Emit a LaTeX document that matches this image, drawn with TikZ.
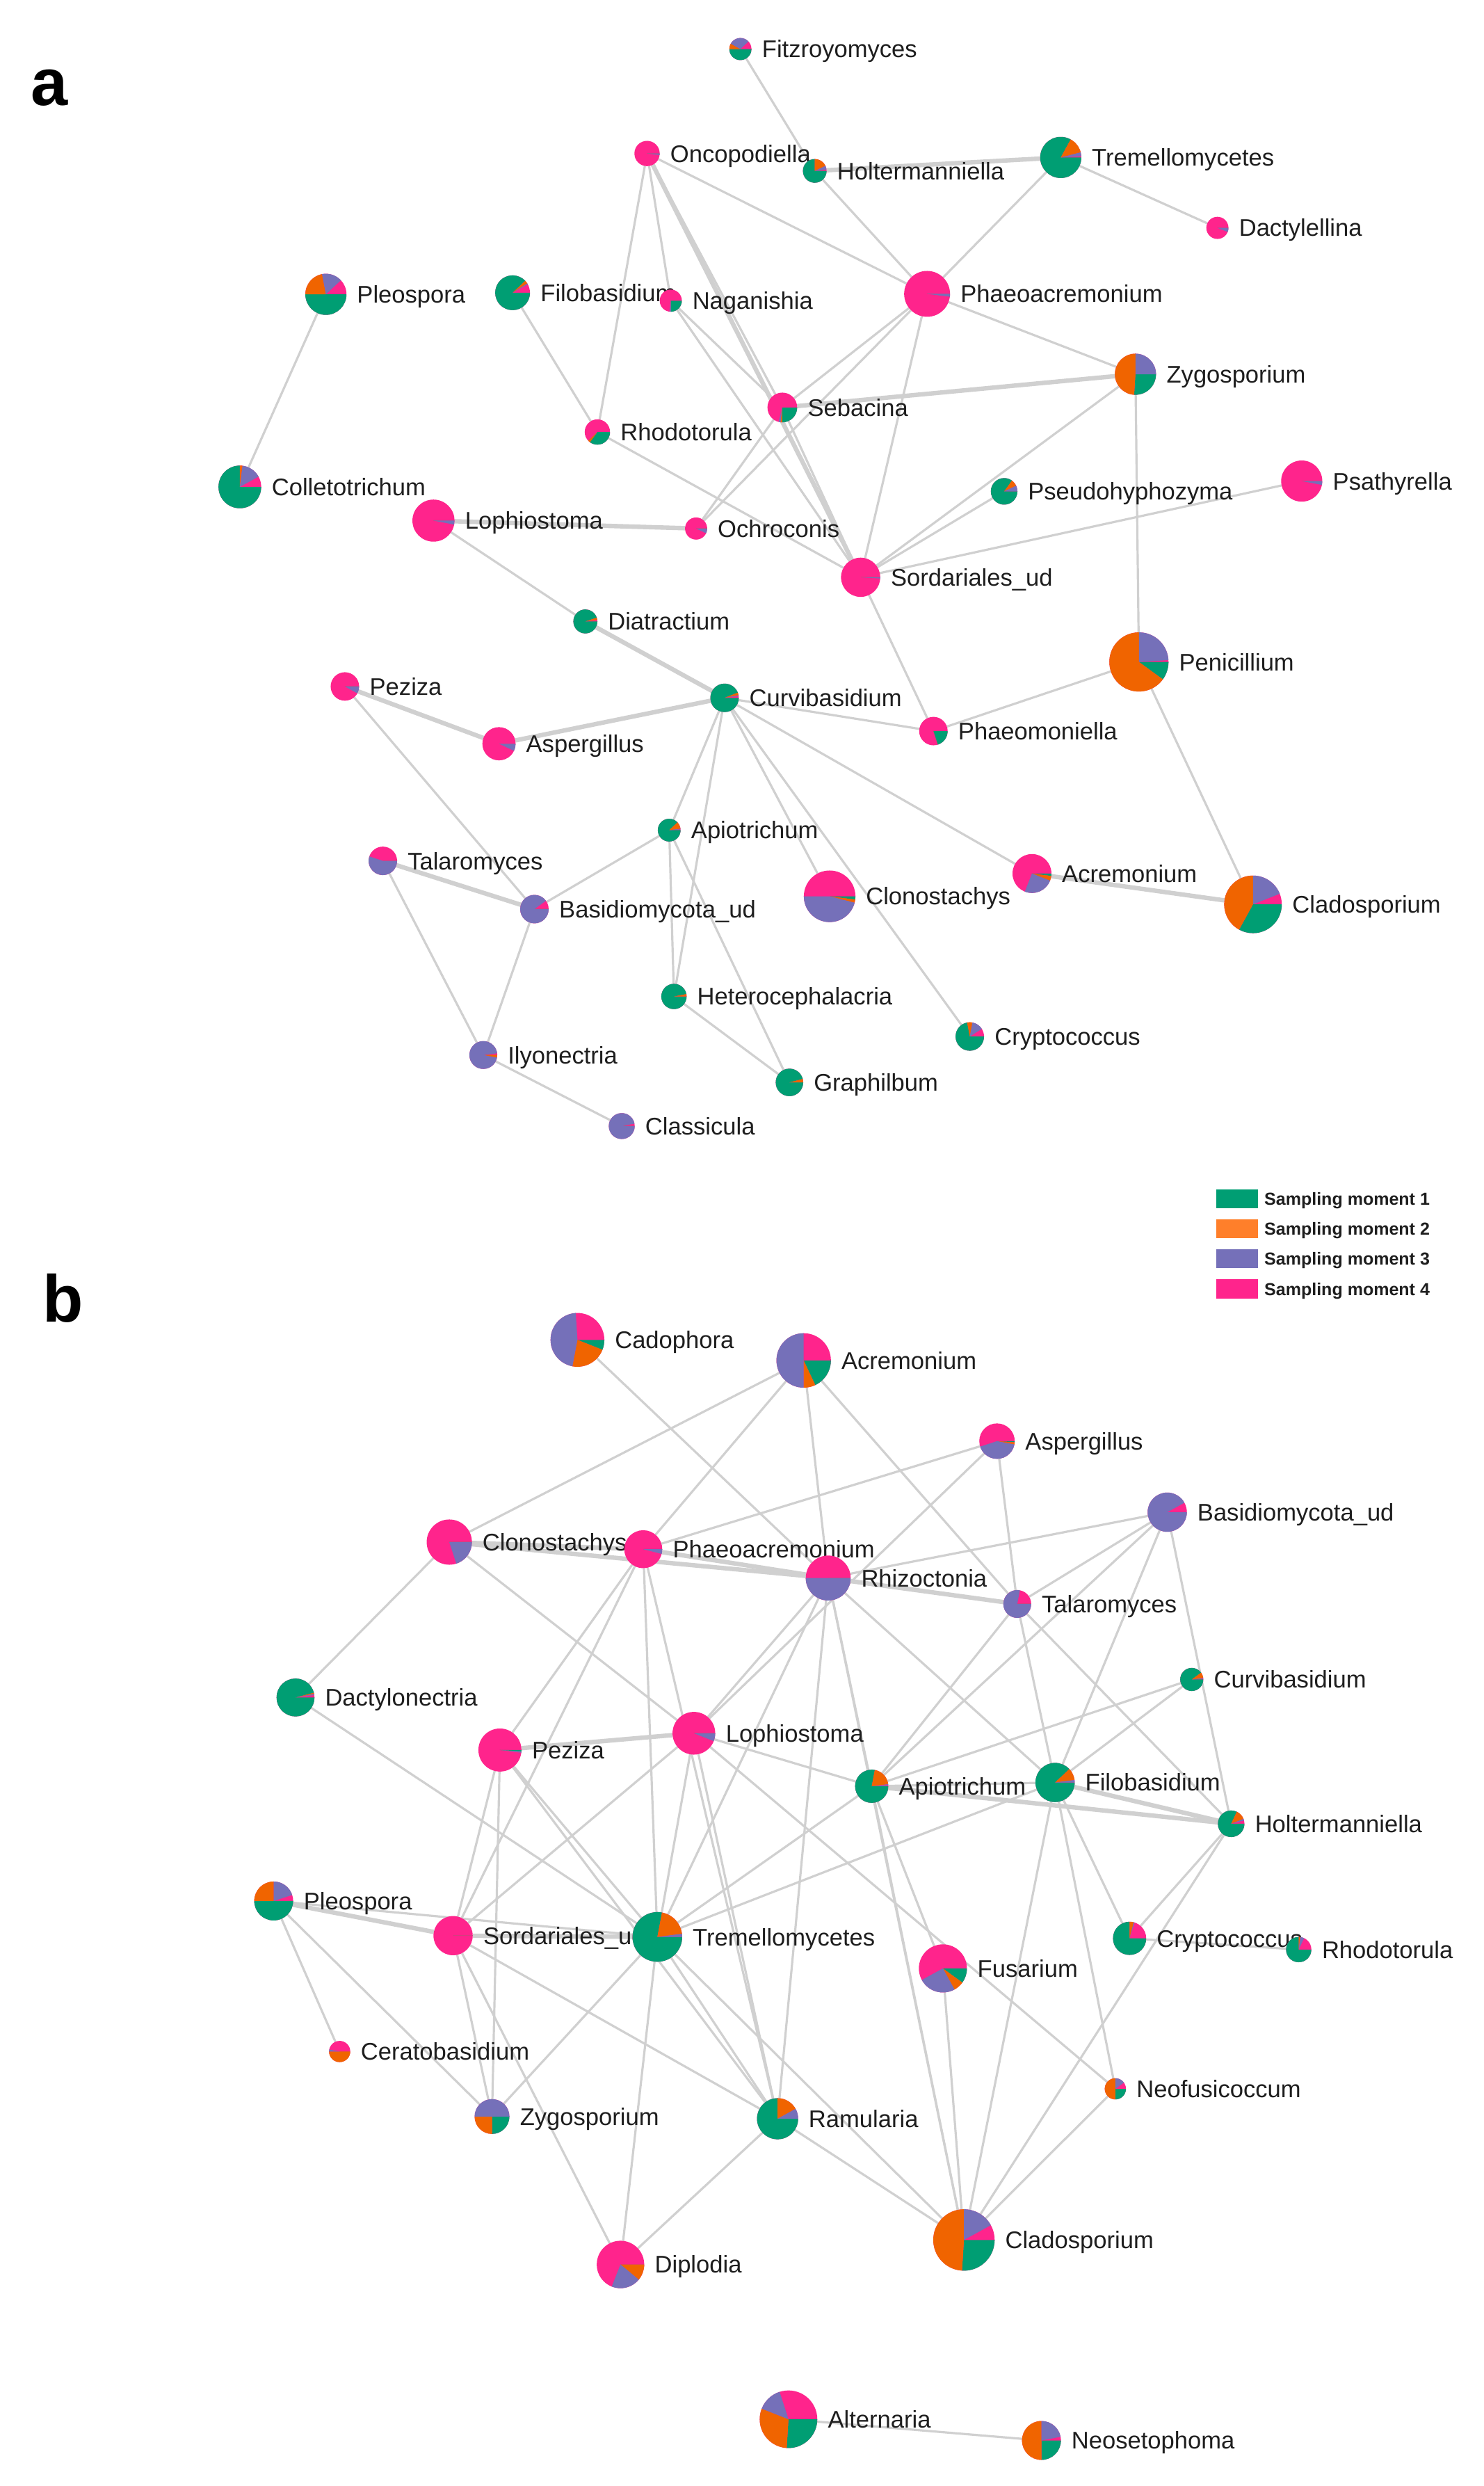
\documentclass[tikz,border=0pt]{standalone}
\usepackage{fontspec}
\setmainfont{Liberation Sans}
\definecolor{cg}{RGB}{0,158,115}
\definecolor{co}{RGB}{240,100,0}
\definecolor{cp}{RGB}{117,112,185}
\definecolor{ck}{RGB}{255,36,140}
\definecolor{lo}{RGB}{255,127,42}
\definecolor{eg}{RGB}{208,208,208}
\definecolor{tx}{RGB}{30,30,30}
\pgfdeclarelayer{bg}
\pgfdeclarelayer{edges}
\pgfsetlayers{bg,edges,main}
\tikzset{
  pie/.style={circle,inner sep=0pt,outer sep=0pt},
  lbl/.style={anchor=west,inner sep=0pt,text=tx,font=\fontsize{15.2}{18}\selectfont,text height=10.9pt,text depth=0pt},
  ed/.style={draw=eg,line width=1.4pt},
  edt/.style={draw=eg,line width=2.8pt},
  panel/.style={anchor=base west,inner sep=0pt,font=\fontsize{42}{42}\selectfont\bfseries},
  legbox/.style={minimum width=26pt,minimum height=12pt,inner sep=0pt},
  legtxt/.style={anchor=west,inner sep=0pt,text=tx,font=\fontsize{11}{13}\selectfont\bfseries,text height=8pt,text depth=0pt}
}
\newcommand\pnode[8]{%
  \node[pie,minimum size={2*#3pt}] (#1) at (#2) {};
  \pgfmathsetmacro\pieA{-360*#4}%
  \pgfmathsetmacro\pieB{\pieA-360*#5}%
  \pgfmathsetmacro\pieC{\pieB-360*#6}%
  \fill[ck] (#1.center) circle[radius=#3pt];
  \fill[cg] (#1.center) -- ++(0:#3pt) arc[start angle=0,end angle=\pieA,radius=#3pt] -- cycle;
  \fill[co] (#1.center) -- ++(\pieA:#3pt) arc[start angle=\pieA,end angle=\pieB,radius=#3pt] -- cycle;
  \fill[cp] (#1.center) -- ++(\pieB:#3pt) arc[start angle=\pieB,end angle=\pieC,radius=#3pt] -- cycle;
  \node[lbl] (#1-l) at ([xshift=6.5pt]#1.east) {#8};
}
\begin{document}
\begin{tikzpicture}[x=1pt,y=-1pt]
\useasboundingbox (0,0) rectangle (938,1571);
\begin{pgfonlayer}{bg}
\fill[white] (0,0) rectangle (938,1571);
\end{pgfonlayer}

\node[panel] (lab-a) at (19.5,66.5) {a};
\node[panel] (lab-b) at (27,835.3) {b};

% ---------------- panel a ----------------
\pnode{a-fit}{468,31}{7}{.5}{.08}{.3}{.12}{Fitzroyomyces}
\pnode{a-onc}{409,97}{8}{0}{0}{.02}{.98}{Oncopodiella}
\pnode{a-hol}{515,108}{7.5}{.75}{.18}{.05}{.02}{Holtermanniella}
\pnode{a-tre}{670.5,99.5}{13}{.83}{.13}{.03}{.01}{Tremellomycetes}
\pnode{a-dac}{769.5,144}{7}{0}{0}{.06}{.94}{Dactylellina}
\pnode{a-ple}{206,186}{13}{.5}{.22}{.16}{.12}{Pleospora}
\pnode{a-fil}{324,185}{11}{.88}{.03}{.01}{.08}{Filobasidium}
\pnode{a-nag}{424,190}{7}{.25}{0}{.02}{.73}{Naganishia}
\pnode{a-pha}{586,185.7}{14.5}{0}{0}{.02}{.98}{Phaeoacremonium}
\pnode{a-zyg}{717.7,236.5}{13}{.26}{.49}{.25}{0}{Zygosporium}
\pnode{a-seb}{494.5,257.5}{9.4}{.25}{.02}{.02}{.71}{Sebacina}
\pnode{a-rho}{377.6,273}{8}{.35}{.03}{0}{.62}{Rhodotorula}
\pnode{a-col}{151.6,307.7}{13.5}{.75}{.02}{.15}{.08}{Colletotrichum}
\pnode{a-lop}{274,329}{13.3}{0}{0}{.03}{.97}{Lophiostoma}
\pnode{a-och}{440,334}{7}{0}{0}{.07}{.93}{Ochroconis}
\pnode{a-pse}{634.7,310.5}{8.4}{.85}{.08}{.07}{0}{Pseudohyphozyma}
\pnode{a-psa}{822.8,304}{13}{0}{0}{.03}{.97}{Psathyrella}
\pnode{a-sor}{544,364.8}{12.4}{0}{0}{.01}{.99}{Sordariales\_ud}
\pnode{a-dia}{370,392.7}{7.6}{.95}{.03}{0}{.02}{Diatractium}
\pnode{a-pen}{719.9,418.3}{18.7}{.1}{.65}{.24}{.01}{Penicillium}
\pnode{a-pez}{218,433.8}{9}{0}{0}{.08}{.92}{Peziza}
\pnode{a-cur}{458,441}{9}{.94}{.03}{.01}{.02}{Curvibasidium}
\pnode{a-asp}{315.4,470}{10.5}{0}{0}{.07}{.93}{Aspergillus}
\pnode{a-phm}{590,462}{9}{.2}{0}{0}{.8}{Phaeomoniella}
\pnode{a-api}{423,524.6}{7.2}{.88}{.1}{.01}{.01}{Apiotrichum}
\pnode{a-tal}{242,544}{9}{0}{0}{.55}{.45}{Talaromyces}
\pnode{a-bas}{337.8,574.5}{9}{0}{0}{.9}{.1}{Basidiomycota\_ud}
\pnode{a-clo}{524.4,566.4}{16.3}{.02}{.02}{.46}{.5}{Clonostachys}
\pnode{a-acr}{652.3,552}{12.3}{.02}{.04}{.25}{.69}{Acremonium}
\pnode{a-cla}{792,571.5}{18.2}{.33}{.42}{.19}{.06}{Cladosporium}
\pnode{a-het}{426,629.7}{8}{.97}{.03}{0}{0}{Heterocephalacria}
\pnode{a-cry}{613,655}{9}{.72}{.06}{.13}{.09}{Cryptococcus}
\pnode{a-ily}{305.5,666.7}{8.8}{0}{.03}{.95}{.02}{Ilyonectria}
\pnode{a-gra}{499,684}{8.7}{.96}{.04}{0}{0}{Graphilbum}
\pnode{a-cls}{393,711.6}{8.2}{0}{0}{.97}{.03}{Classicula}

% legend
\node[legbox,fill=cg] (leg1) at (782,757.5) {};
\node[legbox,fill=lo] (leg2) at (782,776.5) {};
\node[legbox,fill=cp] (leg3) at (782,795.5) {};
\node[legbox,fill=ck] (leg4) at (782,814.5) {};
\node[legtxt] (leg1t) at (799,757.5) {Sampling moment 1};
\node[legtxt] (leg2t) at (799,776.5) {Sampling moment 2};
\node[legtxt] (leg3t) at (799,795.5) {Sampling moment 3};
\node[legtxt] (leg4t) at (799,814.5) {Sampling moment 4};

% ---------------- panel b ----------------
\pnode{b-cad}{365,846.7}{17}{.06}{.22}{.46}{.26}{Cadophora}
\pnode{b-acr}{508,859.7}{17.2}{.18}{.07}{.5}{.25}{Acremonium}
\pnode{b-asp}{630.2,910.7}{11.2}{.01}{.02}{.42}{.55}{Aspergillus}
\pnode{b-bas}{737.8,955.6}{12.4}{0}{0}{.92}{.08}{Basidiomycota\_ud}
\pnode{b-clo}{284,974.5}{14.3}{0}{0}{.2}{.8}{Clonostachys}
\pnode{b-pha}{406.6,979}{12}{0}{0}{.04}{.96}{Phaeoacremonium}
\pnode{b-rhi}{523.5,997.2}{14.2}{0}{0}{.5}{.5}{Rhizoctonia}
\pnode{b-tal}{643,1013.6}{8.8}{0}{0}{.78}{.22}{Talaromyces}
\pnode{b-cur}{753.3,1061.3}{7.3}{.9}{.08}{.01}{.01}{Curvibasidium}
\pnode{b-dac}{186.8,1072.7}{12}{.96}{.01}{.01}{.02}{Dactylonectria}
\pnode{b-pez}{316,1105.9}{13.6}{.01}{0}{.01}{.98}{Peziza}
\pnode{b-lop}{438.6,1095.3}{13.5}{0}{0}{.06}{.94}{Lophiostoma}
\pnode{b-api}{551,1128.8}{10.5}{.78}{.2}{.01}{.01}{Apiotrichum}
\pnode{b-fil}{666.9,1126.4}{12.4}{.88}{.1}{.02}{0}{Filobasidium}
\pnode{b-hol}{778.2,1152.5}{8.4}{.82}{.12}{.02}{.04}{Holtermanniella}
\pnode{b-ple}{173,1201.3}{12.3}{.5}{.25}{.2}{.05}{Pleospora}
\pnode{b-sor}{286.4,1223.2}{12.4}{0}{0}{0}{1}{Sordariales\_ud}
\pnode{b-tre}{415.5,1224}{15.7}{.78}{.2}{.02}{0}{Tremellomycetes}
\pnode{b-cry}{714,1224.9}{10.5}{.75}{.04}{.01}{.2}{Cryptococcus}
\pnode{b-rho}{820.9,1232}{8}{.75}{.02}{.05}{.18}{Rhodotorula}
\pnode{b-fus}{596,1243.9}{15.2}{.1}{.07}{.25}{.58}{Fusarium}
\pnode{b-cer}{214.7,1296.4}{6.7}{0}{.5}{.03}{.47}{Ceratobasidium}
\pnode{b-neo}{705,1320}{6.7}{.25}{.5}{.15}{.1}{Neofusicoccum}
\pnode{b-zyg}{311,1337.5}{11}{.25}{.25}{.5}{0}{Zygosporium}
\pnode{b-ram}{491.5,1338.9}{13}{.75}{.17}{.08}{0}{Ramularia}
\pnode{b-dip}{392.2,1431}{15}{0}{.11}{.2}{.69}{Diplodia}
\pnode{b-cla}{609.3,1415.5}{19.4}{.26}{.49}{.17}{.08}{Cladosporium}
\pnode{b-alt}{498.4,1528.8}{18.2}{.26}{.3}{.14}{.3}{Alternaria}
\pnode{b-nes}{658.3,1542.2}{12.3}{.25}{.5}{.22}{.03}{Neosetophoma}

\begin{pgfonlayer}{edges}
% panel a
\draw[ed] (a-fit) -- (a-hol);
\draw[edt] (a-hol) -- (a-tre);
\draw[ed] (a-hol) -- (a-pha);
\draw[ed] (a-onc) -- (a-pha);
\draw[ed] (a-tre) -- (a-pha);
\draw[ed] (a-tre) -- (a-dac);
\draw[ed] (a-pha) -- (a-zyg);
\draw[ed] (a-pha) -- (a-seb);
\draw[ed] (a-pha) -- (a-och);
\draw[ed] (a-pha) -- (a-sor);
\draw[edt] (a-zyg) -- (a-seb);
\draw[ed] (a-zyg) -- (a-pen);
\draw[ed] (a-zyg) -- (a-sor);
\draw[ed] (a-pse) -- (a-sor);
\draw[ed] (a-psa) -- (a-sor);
\draw[ed] (a-onc) -- (a-rho);
\draw[ed] (a-onc) -- (a-nag);
\draw[ed] (a-onc) -- (a-seb);
\draw[edt] (a-onc) -- (a-sor);
\draw[ed] (a-fil) -- (a-rho);
\draw[ed] (a-nag) -- (a-seb);
\draw[ed] (a-nag) -- (a-sor);
\draw[ed] (a-seb) -- (a-och);
\draw[ed] (a-seb) -- (a-sor);
\draw[ed] (a-rho) -- (a-sor);
\draw[edt] (a-lop) -- (a-och);
\draw[ed] (a-lop) -- (a-dia);
\draw[edt] (a-dia) -- (a-cur);
\draw[ed] (a-ple) -- (a-col);
\draw[edt] (a-pez) -- (a-asp);
\draw[edt] (a-asp) -- (a-cur);
\draw[ed] (a-pez) -- (a-bas);
\draw[ed] (a-cur) -- (a-phm);
\draw[ed] (a-sor) -- (a-phm);
\draw[ed] (a-phm) -- (a-pen);
\draw[ed] (a-pen) -- (a-cla);
\draw[ed] (a-cur) -- (a-acr);
\draw[edt] (a-acr) -- (a-cla);
\draw[ed] (a-cur) -- (a-api);
\draw[ed] (a-cur) -- (a-het);
\draw[ed] (a-cur) -- (a-clo);
\draw[ed] (a-cur) -- (a-cry);
\draw[ed] (a-api) -- (a-het);
\draw[ed] (a-api) -- (a-gra);
\draw[ed] (a-api) -- (a-bas);
\draw[edt] (a-tal) -- (a-bas);
\draw[ed] (a-tal) -- (a-ily);
\draw[ed] (a-bas) -- (a-ily);
\draw[ed] (a-ily) -- (a-cls);
\draw[ed] (a-het) -- (a-gra);
% panel b
\draw[ed] (b-cad) -- (b-rhi);
\draw[ed] (b-acr) -- (b-clo);
\draw[ed] (b-acr) -- (b-pha);
\draw[ed] (b-acr) -- (b-rhi);
\draw[ed] (b-acr) -- (b-tal);
\draw[ed] (b-asp) -- (b-pha);
\draw[ed] (b-asp) -- (b-lop);
\draw[ed] (b-asp) -- (b-tal);
\draw[ed] (b-bas) -- (b-rhi);
\draw[ed] (b-bas) -- (b-tal);
\draw[ed] (b-bas) -- (b-fil);
\draw[ed] (b-bas) -- (b-hol);
\draw[ed] (b-bas) -- (b-api);
\draw[edt] (b-clo) -- (b-pha);
\draw[edt] (b-clo) -- (b-rhi);
\draw[ed] (b-clo) -- (b-dac);
\draw[ed] (b-clo) -- (b-lop);
\draw[edt] (b-pha) -- (b-rhi);
\draw[ed] (b-pha) -- (b-pez);
\draw[ed] (b-pha) -- (b-sor);
\draw[ed] (b-pha) -- (b-tre);
\draw[ed] (b-pha) -- (b-ram);
\draw[edt] (b-rhi) -- (b-tal);
\draw[ed] (b-rhi) -- (b-lop);
\draw[ed] (b-rhi) -- (b-tre);
\draw[ed] (b-rhi) -- (b-api);
\draw[ed] (b-rhi) -- (b-fil);
\draw[ed] (b-rhi) -- (b-cla);
\draw[ed] (b-rhi) -- (b-ram);
\draw[ed] (b-tal) -- (b-api);
\draw[ed] (b-tal) -- (b-fil);
\draw[ed] (b-tal) -- (b-hol);
\draw[ed] (b-cur) -- (b-api);
\draw[ed] (b-cur) -- (b-fil);
\draw[ed] (b-dac) -- (b-tre);
\draw[edt] (b-pez) -- (b-lop);
\draw[ed] (b-pez) -- (b-sor);
\draw[ed] (b-pez) -- (b-ram);
\draw[ed] (b-pez) -- (b-tre);
\draw[ed] (b-pez) -- (b-zyg);
\draw[ed] (b-lop) -- (b-sor);
\draw[ed] (b-lop) -- (b-tre);
\draw[ed] (b-lop) -- (b-api);
\draw[ed] (b-lop) -- (b-neo);
\draw[ed] (b-lop) -- (b-ram);
\draw[ed] (b-api) -- (b-fil);
\draw[edt] (b-api) -- (b-hol);
\draw[ed] (b-api) -- (b-fus);
\draw[ed] (b-api) -- (b-cla);
\draw[edt] (b-fil) -- (b-hol);
\draw[ed] (b-fil) -- (b-cry);
\draw[ed] (b-fil) -- (b-cla);
\draw[ed] (b-fil) -- (b-neo);
\draw[ed] (b-hol) -- (b-cry);
\draw[ed] (b-hol) -- (b-cla);
\draw[edt] (b-ple) -- (b-sor);
\draw[ed] (b-ple) -- (b-tre);
\draw[ed] (b-ple) -- (b-cer);
\draw[ed] (b-ple) -- (b-zyg);
\draw[edt] (b-sor) -- (b-tre);
\draw[ed] (b-sor) -- (b-dip);
\draw[ed] (b-sor) -- (b-ram);
\draw[ed] (b-sor) -- (b-zyg);
\draw[ed] (b-tre) -- (b-zyg);
\draw[ed] (b-tre) -- (b-ram);
\draw[ed] (b-tre) -- (b-cla);
\draw[ed] (b-tre) -- (b-dip);
\draw[ed] (b-tre) -- (b-api);
\draw[ed] (b-tre) -- (b-fil);
\draw[ed] (b-cry) -- (b-rho);
\draw[ed] (b-ram) -- (b-cla);
\draw[ed] (b-ram) -- (b-dip);
\draw[ed] (b-neo) -- (b-cla);
\draw[ed] (b-fus) -- (b-cla);
\draw[ed] (b-alt) -- (b-nes);
\end{pgfonlayer}
\end{tikzpicture}
\end{document}
